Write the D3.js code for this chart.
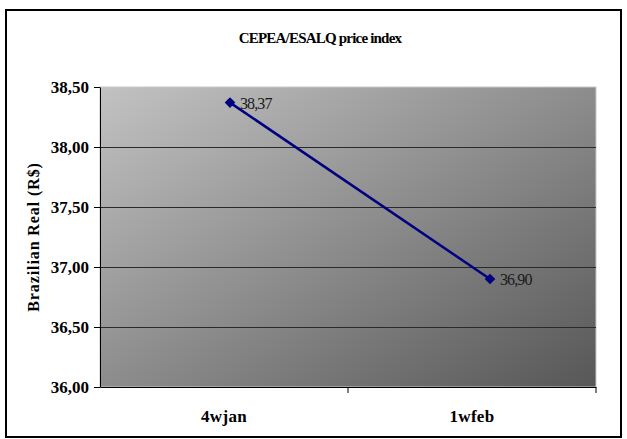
<!DOCTYPE html>
<html>
<head>
<meta charset="utf-8">
<script src="https://cdn.jsdelivr.net/npm/d3@7"></script>
<style>
  html, body { margin: 0; padding: 0; background: #fff; }
  svg { display: block; }
  text { font-family: "Liberation Serif", "DejaVu Serif", serif; }
</style>
</head>
<body>
<script>
const categories = ["4wjan", "1wfeb"];
const values = [38.37, 36.90];
const valueLabels = ["38,37", "36,90"];
const yTicks = [36.0, 36.5, 37.0, 37.5, 38.0, 38.5];
const title = "CEPEA/ESALQ price index";
const yTitle = "Brazilian Real (R$)";

const W = 627, H = 439;
const plot = { left: 100, top: 87, right: 596, bottom: 387 };

const svg = d3.select("body").append("svg").attr("width", W).attr("height", H);

// outer chart border
svg.append("rect")
  .attr("x", 6).attr("y", 10).attr("width", 615).attr("height", 427)
  .attr("fill", "#fff").attr("stroke", "#000").attr("stroke-width", 2);

const defs = svg.append("defs");
const grad = defs.append("linearGradient").attr("id", "bg")
  .attr("x1", 0).attr("y1", 0).attr("x2", 1).attr("y2", 1);
grad.append("stop").attr("offset", "0%").attr("stop-color", "#c2c2c2");
grad.append("stop").attr("offset", "100%").attr("stop-color", "#575757");

const x = d3.scaleBand().domain(categories).range([plot.left, plot.right]);
// markers sit slightly right of the category centres in the reference
const xp = d3.scalePoint().domain(categories).range([230, 490]);
const y = d3.scaleLinear().domain([36, 38.5]).range([plot.bottom, plot.top]);

svg.append("rect")
  .attr("x", plot.left).attr("y", plot.top)
  .attr("width", plot.right - plot.left).attr("height", plot.bottom - plot.top)
  .attr("fill", "url(#bg)").attr("stroke", "#c8c8c8").attr("stroke-width", 1);

// gridlines
svg.append("g").selectAll("line")
  .data(yTicks.filter(t => t > 36 && t < 38.5))
  .join("line")
  .attr("x1", plot.left).attr("x2", plot.right)
  .attr("y1", d => Math.round(y(d)) + 0.5).attr("y2", d => Math.round(y(d)) + 0.5)
  .attr("stroke", "#2a2a2a").attr("stroke-width", 1);

const fmt = d => d3.format(".2f")(d).replace(".", ",");

// y axis
const yAxis = svg.append("g")
  .attr("transform", `translate(${plot.left},0)`)
  .call(d3.axisLeft(y).tickValues(yTicks).tickFormat(fmt).tickSize(6).tickSizeOuter(0));
yAxis.select(".domain").attr("stroke", "#000");
yAxis.selectAll(".tick line").attr("stroke", "#000");
yAxis.selectAll(".tick text")
  .attr("font-family", "Liberation Serif, serif")
  .attr("font-size", 17).attr("font-weight", "bold").attr("fill", "#000")
  .attr("x", -11).attr("letter-spacing", "0");

// x axis
const xAxis = svg.append("g")
  .attr("transform", `translate(0,${plot.bottom})`)
  .call(d3.axisBottom(x).tickSize(0).tickSizeOuter(0));
xAxis.select(".domain").attr("stroke", "#000");
xAxis.selectAll(".tick text")
  .attr("font-family", "Liberation Serif, serif")
  .attr("font-size", 17).attr("font-weight", "bold").attr("fill", "#000")
  .attr("dy", "1.9em").attr("letter-spacing", "0.3");
// category boundary tick marks
svg.append("g").selectAll("line")
  .data(categories.map(c => x(c) + x.bandwidth()))
  .join("line")
  .attr("x1", d => d).attr("x2", d => d)
  .attr("y1", plot.bottom).attr("y2", plot.bottom + 6)
  .attr("stroke", "#000");

// line
const pts = categories.map((c, i) => [xp(c), y(values[i])]);
svg.append("path")
  .attr("d", d3.line()(pts))
  .attr("fill", "none").attr("stroke", "#000080").attr("stroke-width", 2.5);

svg.append("g").selectAll("path")
  .data(pts)
  .join("path")
  .attr("transform", d => `translate(${d[0]},${d[1]})`)
  .attr("d", d3.symbol(d3.symbolDiamond2, 72))
  .attr("fill", "#000080");

svg.append("g").selectAll("text")
  .data(pts)
  .join("text")
  .attr("x", d => d[0] + 10).attr("y", d => d[1] + 6)
  .attr("font-size", 16).attr("fill", "#1a1a1a").attr("letter-spacing", "-0.9")
  .text((d, i) => valueLabels[i]);

// title
svg.append("text")
  .attr("x", 320).attr("y", 43).attr("text-anchor", "middle")
  .attr("font-size", 15).attr("font-weight", "bold").attr("letter-spacing", "-0.8")
  .text(title);

// y title
svg.append("text")
  .attr("transform", `translate(39,${(plot.top + plot.bottom) / 2}) rotate(-90)`)
  .attr("text-anchor", "middle")
  .attr("font-size", 16).attr("font-weight", "bold").attr("letter-spacing", "0.9")
  .text(yTitle);
</script>
</body>
</html>
